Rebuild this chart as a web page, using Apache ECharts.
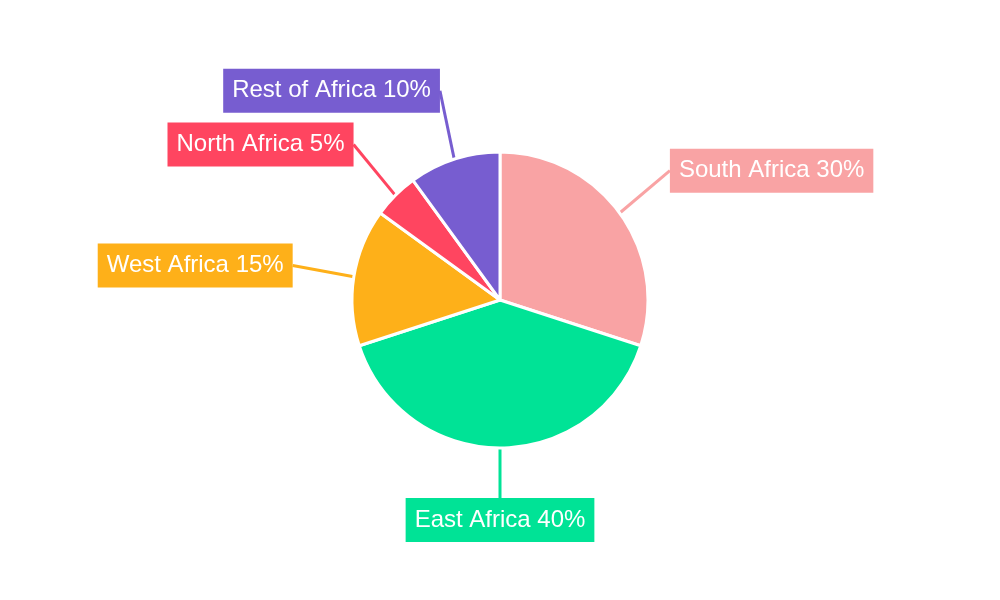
<!DOCTYPE html>
<html>
<head>
<meta charset="utf-8">
<script src="https://cdn.jsdelivr.net/npm/echarts@6/dist/echarts.min.js"></script>
<style>html,body{margin:0;padding:0;background:#fff}#c{width:1000px;height:600px}</style>
</head>
<body>
<div id="c"></div>
<script>
const categories = ['South Africa', 'East Africa', 'West Africa', 'North Africa', 'Rest of Africa'];
const values = [30, 40, 15, 5, 10];
const colors = ['#f9a3a4', '#00e396', '#feb019', '#ff4560', '#775dd0'];

const chart = echarts.init(document.getElementById('c'), null, {renderer: 'canvas'});
chart.setOption({
  animation: false,
  series: [{
    type: 'pie',
    center: ['50%', '50%'],
    radius: 148,
    startAngle: 90,
    clockwise: true,
    avoidLabelOverlap: false,
    data: categories.map((c, i) => ({
      name: c, value: values[i],
      itemStyle: {color: colors[i]},
      label: {backgroundColor: colors[i]},
      labelLine: {lineStyle: {color: colors[i]}}
    })),
    itemStyle: {borderColor: '#fff', borderWidth: 3},
    label: {
      show: true,
      position: 'outside',
      formatter: p => p.name + ' ' + p.value + '%',
      color: '#fff',
      fontFamily: 'Liberation Sans, Arial, sans-serif',
      fontSize: 24,
      lineHeight: 28,
      padding: [8, 9],
      distanceToLabelLine: 0
    },
    labelLine: {show: true, length: 60, length2: 0, lineStyle: {width: 3}},
    labelLayout: function (p) {
      const pts = p.labelLinePoints;
      if (!pts) return {};
      const start = pts[0];
      const cx = 500, cy = 300;
      const dx = start[0] - cx, dy = start[1] - cy;
      const d = Math.sqrt(dx * dx + dy * dy);
      const ux = dx / d, uy = dy / d;
      const ax = cx + ux * 210, ay = cy + uy * 210;
      const w = p.labelRect.width, h = p.labelRect.height;
      const shift = 7 * (1 - Math.abs(ux));
      let x;
      if (Math.abs(ux) < 0.2) x = ax - w / 2;
      else x = ux > 0 ? ax : ax - w + shift;
      const y = ay + uy * 10 - h / 2;
      return {x: x, y: y, align: 'left', verticalAlign: 'top'};
    }
  }]
});
</script>
</body>
</html>
